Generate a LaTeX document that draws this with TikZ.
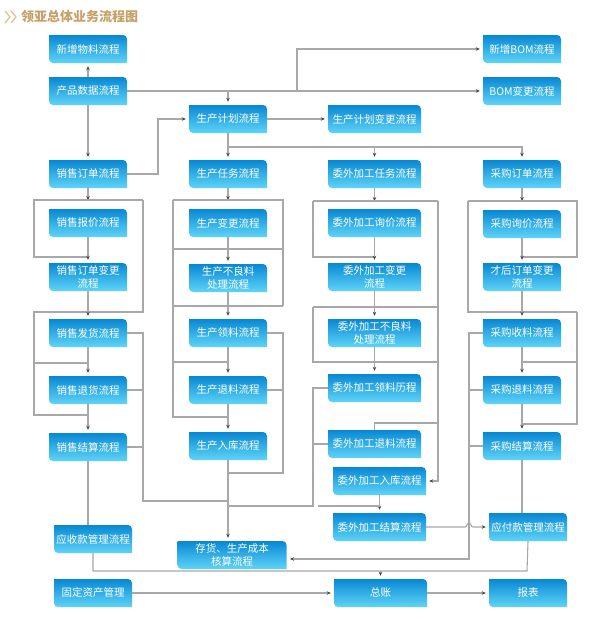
\documentclass[tikz,border=0pt]{standalone}
\usepackage{fontspec}
\newfontfamily\cjk{Noto Sans CJK SC}
\usetikzlibrary{arrows.meta,calc}
\definecolor{lnc}{RGB}{168,168,168}
\definecolor{arrc}{RGB}{70,70,70}
\definecolor{btop}{RGB}{8,136,212}
\definecolor{bmid}{RGB}{28,162,228}
\definecolor{bbot}{RGB}{95,212,248}
\definecolor{gold}{RGB}{198,160,102}
\definecolor{goldl}{RGB}{222,198,152}
\newcommand\bx[6]{%
  \pgfmathsetmacro\bxL{#2-#4/2}\pgfmathsetmacro\bxR{#2+#4/2}%
  \pgfmathsetmacro\bxT{#3-#5/2}\pgfmathsetmacro\bxB{#3+#5/2}%
  \shade[top color=btop, middle color=bmid, bottom color=bbot]
    (\bxL,\bxT) -- (\bxR-4,\bxT) arc[start angle=270,end angle=360,radius=4]
    -- (\bxR,\bxB) -- (\bxL+4,\bxB) arc[start angle=90,end angle=180,radius=4] -- cycle;
  \node[boxtext, minimum width=#4, minimum height=#5] (#1) at (#2,#3) {#6};
}
\begin{document}
\begin{tikzpicture}[x=1pt,y=-1pt,
  boxtext/.style={inner sep=0pt, align=center, text=white, font=\cjk\fontsize{10.5}{13}\selectfont},
  ln/.style={draw=lnc, line width=1.1pt},
  arr/.style={ln, -{Stealth[length=4pt,width=3.5pt,color=arrc]}, shorten >=3pt},
  arrj/.style={ln, -{Stealth[length=4pt,width=3.5pt,color=arrc]}}]
\useasboundingbox (0,0) rectangle (591,619);
\fill[white] (0,0) rectangle (591,619);
% title
\draw[goldl, line width=1.4pt] (5,11) -- (10,17) -- (5,23) (11,11) -- (16,17) -- (11,23);
\node[anchor=west, inner sep=0pt, text=gold, font=\cjk\bfseries\fontsize{13}{14}\selectfont] (title) at (21,17) {领亚总体业务流程图};
% column 1
\bx{wl}{88}{49}{78}{28}{新增物料流程}
\bx{cp}{88}{91}{78}{28}{产品数据流程}
\bx{xd}{88}{174}{78}{28}{销售订单流程}
\bx{bj}{88}{223}{78}{28}{销售报价流程}
\bx{xb}{88}{277}{78}{28}{销售订单变更\\流程}
\bx{fh}{88}{333}{78}{28}{销售发货流程}
\bx{th}{88}{390}{78}{28}{销售退货流程}
\bx{jsa}{88}{447}{78}{28}{销售结算流程}
\bx{ys}{93}{539}{78}{28}{应收款管理流程}
\bx{gd}{93}{593}{78}{28}{固定资产管理}
% column 2
\bx{jh}{228}{119}{78}{28}{生产计划流程}
\bx{rw}{228}{174}{78}{28}{生产任务流程}
\bx{bg}{228}{223}{78}{28}{生产变更流程}
\bx{bl}{228}{278}{78}{28}{生产不良料\\处理流程}
\bx{ll}{228}{333}{78}{28}{生产领料流程}
\bx{tl}{228}{390}{78}{28}{生产退料流程}
\bx{rk}{228}{446}{78}{28}{生产入库流程}
\bx{ch}{232}{555}{109}{28}{存货、生产成本\\核算流程}
% column 3
\bx{jhb}{374.5}{119}{93}{28}{生产计划变更流程}
\bx{ww}{374.5}{174}{93}{28}{委外加工任务流程}
\bx{wxj}{374.5}{223}{93}{28}{委外加工询价流程}
\bx{wbg}{374.5}{277}{93}{28}{委外加工变更\\流程}
\bx{wbl}{374.5}{333}{93}{28}{委外加工不良料\\处理流程}
\bx{wll}{374.5}{388}{93}{28}{委外加工领料历程}
\bx{wtl}{374.5}{444}{93}{28}{委外加工退料流程}
\bx{wrk}{379.5}{481}{93}{28}{委外加工入库流程}
\bx{wjs}{379.5}{527}{93}{28}{委外加工结算流程}
\bx{zz}{380.5}{593}{93}{28}{总账}
% column 4
\bx{bom1}{522}{49}{78}{28}{新增BOM流程}
\bx{bom2}{522}{91}{78}{28}{BOM变更流程}
\bx{cd}{522}{174}{78}{28}{采购订单流程}
\bx{cxj}{522}{224}{78}{28}{采购询价流程}
\bx{cbg}{522}{277}{78}{28}{才后订单变更\\流程}
\bx{csl}{522}{333}{78}{28}{采购收料流程}
\bx{ctl}{522}{390}{78}{28}{采购退料流程}
\bx{cjs}{522}{446}{78}{28}{采购结算流程}
\bx{yf}{528}{527}{78}{28}{应付款管理流程}
\bx{bb}{528}{593}{78}{28}{报表}
% junction coordinates
\coordinate (j1) at (228,91);
\coordinate (j2) at (297,91);
\coordinate (j3) at (228,147);
\coordinate (chin) at (287,559);
\coordinate (wjin) at (318,506);
% top connectors
\draw[arr] (cp.north) -- (wl.south);
\draw[arr] (cp.south) -- (xd.north);
\draw[arr] (cp.east) -- (bom2.west);
\draw[arr] (j1) -- (jh.north);
\draw[arr] (j2) |- (bom1.west);
\draw[arr] (xd.east) -- (158,174) |- (jh.west);
\draw[arr] (jh.east) -- (jhb.west);
\draw[arr] (jh.south) -- (rw.north);
\draw[arr] (j3) -| (cd.north);
\draw[arr] (ww.north |- j3) -- (ww.north);
% column 1 internal
\draw[arrj] (xd.south) -- (88,200);
\draw[ln] (143,200) -- (34,200) -- (34,257) -- (88,257);
\draw[ln] (143,200) -- (143,312) -- (34,312) -- (34,415) -- (88,415);
\draw[ln] (34,363) -- (88,363);
\draw[arr] (bj.south) -- (xb.north);
\draw[arr] (xb.south) -- (fh.north);
\draw[arr] (fh.south) -- (th.north);
\draw[arr] (th.south) -- (jsa.north);
\draw[ln] (fh.east) -- (143,333) -- (143,501) -- (228,501);
\draw[ln] (th.east) -- (143,390);
\draw[ln] (jsa.east) -- (143,447);
\draw[ln] (jsa.south) -- (jsa.south |- ys.north);
\draw[ln] (ys.south) -- (93,571) -- (527,571) -- (yf.south);
\draw[arr] (380.5,571) -- (zz.north);
\draw[arr] (gd.east) -- (zz.west);
\draw[arr] (zz.east) -- (bb.west);
% column 2 internal
\draw[arrj] (rw.south) -- (228,200);
\draw[ln] (173,200) -- (283,200) -- (283,306);
\draw[ln] (173,200) -- (173,417) -- (228,417);
\draw[ln] (173,249) -- (283,249);
\draw[ln] (173,306) -- (283,306);
\draw[ln] (173,362) -- (228,362);
\draw[arr] (bg.south) -- (bl.north);
\draw[arr] (bl.south) -- (ll.north);
\draw[arr] (ll.south) -- (tl.north);
\draw[arr] (tl.south) -- (rk.north);
\draw[arr] (rk.south) -- (rk.south |- ch.north);
\draw[ln] (ll.east) -- (283,333) -- (283,473) -- (228,473);
\draw[ln] (tl.east) -- (283,390);
% column 3 internal
\draw[arrj] (ww.south) -- (374.5,201);
\draw[ln] (313,201) -- (438,201);
\draw[ln] (313,201) -- (313,257) -- (374.5,257);
\draw[arr] (438,201) |- (wrk.east);
\draw[ln] (313,307) -- (438,307);
\draw[ln] (313,307) -- (313,362) -- (438,362);
\draw[arr] (wxj.south) -- (wbg.north);
\draw[arr] (wbg.south) -- (wbl.north);
\draw[arr] (wbl.south) -- (wll.north);
\draw[ln] (438,423) -- (374.5,423) -- (wtl.north);
\draw[ln] (wll.west) -- (313,388) -- (313,506) -- (228,506);
\draw[ln] (wtl.west) -- (313,444);
\draw[arr] (wrk.south) -- (wjs.north);
\draw[ln] (wjin) -- (379.5,506);
\draw[arr] (wjs.east) -- (465,527) .. controls (467,527) and (467,523) .. (469,523)
  .. controls (471,523) and (471,527) .. (473,527) -- (yf.west);
% column 4 internal
\draw[arrj] (cd.south) -- (522,201);
\draw[ln] (468,201) -- (577,201) -- (577,257) -- (522,257);
\draw[ln] (468,201) -- (468,312) -- (577,312);
\draw[ln] (577,312) -- (577,424) -- (522,424);
\draw[ln] (522,362) -- (577,362);
\draw[arr] (cxj.south) -- (cbg.north);
\draw[arr] (cbg.south) -- (csl.north);
\draw[arr] (csl.south) -- (ctl.north);
\draw[arr] (ctl.south) -- (cjs.north);
\draw[ln] (cjs.south) -- (cjs.south |- yf.north);
\draw[arr] (csl.west) -- (469,333) -- (469,559) -- (chin);
\draw[ln] (ctl.west) -- (469,390);
\draw[ln] (cjs.west) -- (469,446);
\end{tikzpicture}
\end{document}
